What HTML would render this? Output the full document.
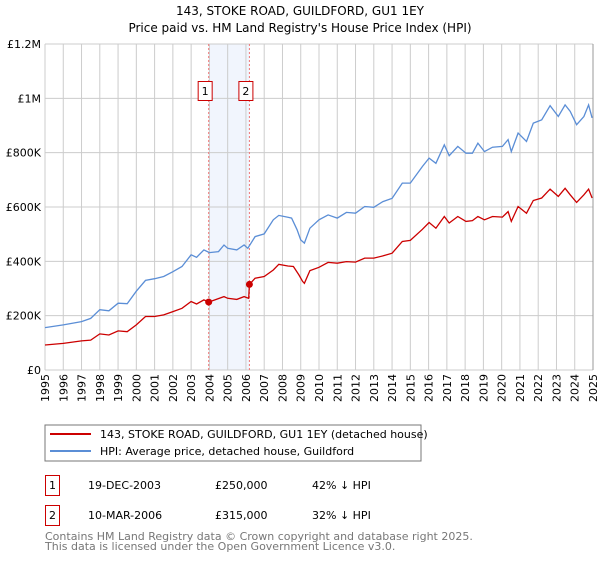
<!DOCTYPE html>
<html><head><meta charset="utf-8"><style>
body{margin:0;background:#fff;}
svg text{font-family:"DejaVu Sans","Liberation Sans",sans-serif;}
</style></head><body>
<svg id="c" width="600" height="560" xmlns="http://www.w3.org/2000/svg">
<text x="300" y="15" text-anchor="middle" font-size="12">143, STOKE ROAD, GUILDFORD, GU1 1EY</text>
<text x="300" y="32" text-anchor="middle" font-size="12">Price paid vs. HM Land Registry's House Price Index (HPI)</text>
<g id="grid"></g>
<g id="series"></g>
<rect x="45" y="425" width="376" height="36" fill="#fff" stroke="#777"/>
<line x1="50" y1="434" x2="91" y2="434" stroke="#cc0000" stroke-width="2"/>
<text x="100" y="438" font-size="11">143, STOKE ROAD, GUILDFORD, GU1 1EY (detached house)</text>
<line x1="50" y1="451" x2="91" y2="451" stroke="#5b8ed6" stroke-width="2"/>
<text x="100" y="455" font-size="11">HPI: Average price, detached house, Guildford</text>
<g>
<rect x="45.5" y="475.5" width="14" height="20" fill="#fff" stroke="#cc0000"/>
<text x="52.5" y="489" font-size="11" text-anchor="middle">1</text>
<text x="88" y="489" font-size="11">19-DEC-2003</text>
<text x="215" y="489" font-size="11">£250,000</text>
<text x="312" y="489" font-size="11">42% ↓ HPI</text>
</g>
<g>
<rect x="45.5" y="505.5" width="14" height="20" fill="#fff" stroke="#cc0000"/>
<text x="52.5" y="519" font-size="11" text-anchor="middle">2</text>
<text x="88" y="519" font-size="11">10-MAR-2006</text>
<text x="215" y="519" font-size="11">£315,000</text>
<text x="312" y="519" font-size="11">32% ↓ HPI</text>
</g>
<text x="45" y="540" font-size="11" fill="#777">Contains HM Land Registry data © Crown copyright and database right 2025.</text>
<text x="45" y="550" font-size="11" fill="#777">This data is licensed under the Open Government Licence v3.0.</text>
</svg>
<script>
const yTicks=[0,200000,400000,600000,800000,1000000,1200000];
const yTickLabels=["£0","£200K","£400K","£600K","£800K","£1M","£1.2M"];
const years=[1995,1996,1997,1998,1999,2000,2001,2002,2003,2004,2005,2006,2007,2008,2009,2010,2011,2012,2013,2014,2015,2016,2017,2018,2019,2020,2021,2022,2023,2024,2025];
const hpiDates=[1995,1996,1997,1997.5,1998,1998.5,1999,1999.5,2000,2000.5,2001,2001.5,2002,2002.5,2003,2003.3,2003.7,2004,2004.5,2004.8,2005,2005.5,2005.9,2006.1,2006.5,2007,2007.5,2007.8,2008.3,2008.5,2008.8,2009,2009.2,2009.5,2010,2010.5,2011,2011.5,2012,2012.5,2013,2013.5,2014,2014.56,2015,2015.66,2016.03,2016.4,2016.86,2017.13,2017.6,2018.05,2018.4,2018.7,2019.06,2019.5,2020.04,2020.35,2020.53,2020.9,2021.36,2021.73,2022.19,2022.65,2023.1,2023.47,2023.75,2024.1,2024.5,2024.76,2024.95];
const hpiValues=[156000,166000,178000,190000,222000,218000,246000,244000,290000,330000,336000,344000,362000,381000,424000,415000,442000,432000,436000,460000,448000,442000,460000,448000,491000,501000,553000,569000,562000,559000,516000,479000,467000,522000,553000,571000,559000,580000,577000,602000,599000,620000,632000,688000,688000,749000,780000,761000,829000,789000,823000,798000,798000,835000,804000,820000,823000,848000,804000,872000,841000,909000,921000,973000,933000,976000,952000,903000,933000,976000,928000];
const propDates=[1995,1996,1997,1997.5,1998,1998.5,1999,1999.5,2000,2000.5,2001,2001.5,2002,2002.5,2003,2003.3,2003.7,2003.96,2004.3,2004.8,2005,2005.5,2005.9,2006.15,2006.19,2006.5,2007,2007.5,2007.8,2008.3,2008.6,2008.9,2009.1,2009.2,2009.5,2010,2010.5,2011,2011.5,2012,2012.5,2013,2013.5,2014,2014.56,2015,2015.66,2016.03,2016.4,2016.86,2017.13,2017.6,2018.05,2018.4,2018.7,2019.06,2019.5,2020.04,2020.35,2020.53,2020.9,2021.36,2021.73,2022.19,2022.65,2023.1,2023.47,2023.75,2024.1,2024.5,2024.76,2024.95];
const propValues=[92000,98000,107000,110000,133000,129000,144000,141000,166000,197000,197000,203000,215000,227000,252000,243000,258000,250000,258000,270000,264000,260000,270000,264000,315000,338000,344000,368000,389000,383000,381000,350000,326000,319000,366000,378000,396000,393000,399000,397000,412000,412000,420000,430000,473000,477000,518000,543000,522000,565000,541000,565000,547000,550000,565000,553000,565000,563000,583000,547000,602000,577000,624000,633000,666000,639000,669000,645000,617000,645000,666000,633000];
const saleDates=[2003.96,2006.19];
const saleValues=[250000,315000];
const saleLabels=["1","2"];
const X0=45,X1=593,Y0=370,Y1=44;
const xs=t=>X0+(t-1995)/(2025-1995)*(X1-X0);
const ys=v=>Y0-v/1200000*(Y0-Y1);
const NS="http://www.w3.org/2000/svg";
function mk(tag,attrs,parent,txt){const e=document.createElementNS(NS,tag);for(const k in attrs)e.setAttribute(k,attrs[k]);if(txt!==undefined)e.textContent=txt;parent.appendChild(e);return e;}
const grid=document.getElementById('grid'),ser=document.getElementById('series');
const shade=mk('rect',{x:xs(saleDates[0]),y:Y1,width:xs(saleDates[1])-xs(saleDates[0]),height:Y0-Y1,fill:'#f1f5fd'},grid);


years.forEach(y=>{const l=mk('line',{x1:xs(y),x2:xs(y),y1:Y1,y2:Y0,stroke:'#cccccc'},grid);


const t=mk('text',{x:0,y:0,'font-size':11,transform:`translate(${xs(y)+4},${Y0+32}) rotate(-90)`},grid,String(y));

});
yTicks.forEach((v,i)=>{const l=mk('line',{x1:X0,x2:X1,y1:ys(v),y2:ys(v),stroke:'#cccccc'},grid);


const t=mk('text',{x:X0-4,y:ys(v)+4,'font-size':11,'text-anchor':'end'},grid,yTickLabels[i]);

});
mk('line',{x1:X1,x2:X1,y1:Y1,y2:Y0,stroke:'#999'},grid);
saleDates.forEach((d,i)=>{const l=mk('line',{x1:xs(d),x2:xs(d),y1:Y1,y2:Y0,stroke:'#ee7777','stroke-dasharray':'2,2'},ser);


const b=mk('rect',{x:xs(d)-10.5,y:81.5,width:14,height:19,fill:'#fff',stroke:'#cc0000'},ser);


mk('text',{x:xs(d)-3.5,y:95,'font-size':11,'text-anchor':'middle'},ser,saleLabels[i]);});
function path(ds,vs,col,name){const p=mk('path',{d:ds.map((d,i)=>(i?'L':'M')+xs(d).toFixed(1)+','+ys(vs[i]).toFixed(1)).join(''),fill:'none',stroke:col,'stroke-width':1.3},ser);

}
path(hpiDates,hpiValues,'#5b8ed6','hpi-line');
path(propDates,propValues,'#cc0000','property-price-line');
saleDates.forEach((d,i)=>{const c=mk('circle',{cx:xs(d),cy:ys(saleValues[i]),r:3.5,fill:'#cc0000'},ser);

});
</script>
</body></html>
